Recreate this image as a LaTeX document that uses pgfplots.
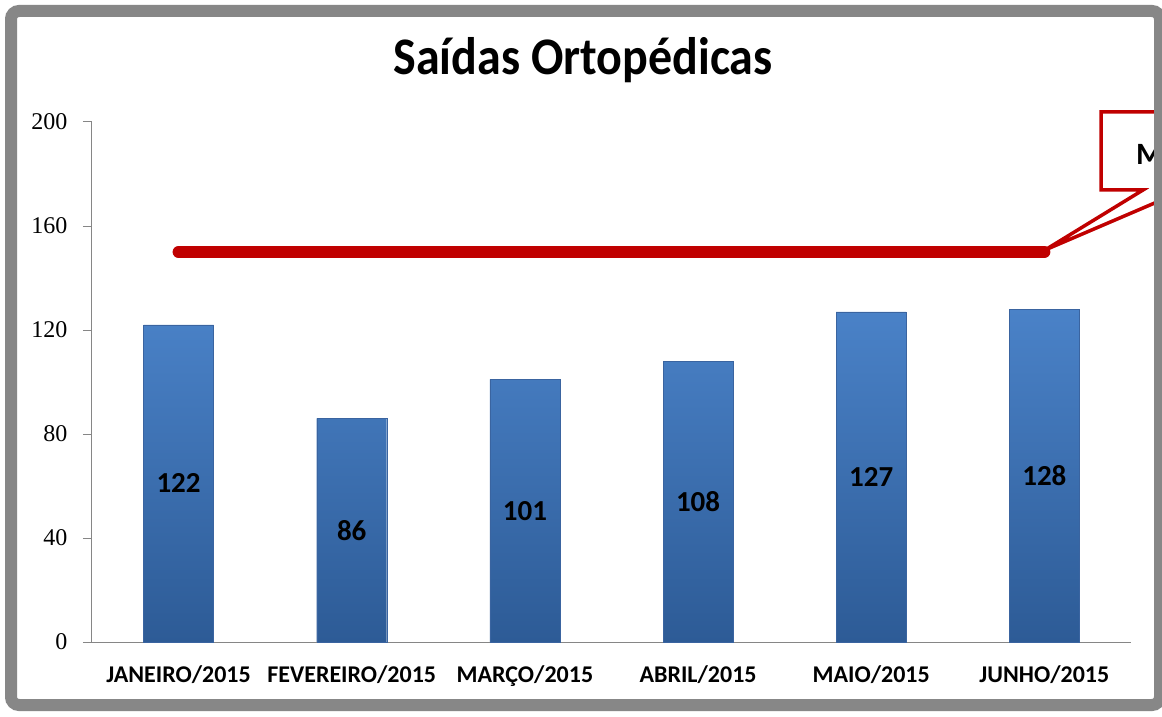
\documentclass[border=0pt]{standalone}
\usepackage{pgfplots}
\pgfplotsset{compat=1.18}
\usepackage{fontspec}
\setmainfont{Carlito}
\newfontfamily\serifnum{Liberation Serif}
\definecolor{framegray}{HTML}{878787}
\definecolor{axgray}{HTML}{868686}
\definecolor{barTop}{HTML}{4A82C8}
\definecolor{barBot}{HTML}{2D5B96}
\definecolor{barEdge}{HTML}{3A64A0}
\definecolor{metared}{HTML}{C00000}
\begin{document}
\begin{tikzpicture}[x=1pt,y=1pt]
\useasboundingbox (0,0) rectangle (1162,716);
\clip (0,0) rectangle (1162,716);
\fill[white] (0,0) rectangle (1162,716);
\node[font=\bfseries\fontsize{48}{48}\selectfont, anchor=center, yscale=1.1] at (583,656) {Saídas Ortopédicas};
\begin{axis}[
  at={(92pt,74pt)}, anchor=south west,
  scale only axis, width=1039pt, height=520pt,
  xmin=-0.5, xmax=5.5, ymin=0, ymax=200,
  axis lines*=left,
  axis line style={axgray, line width=1pt},
  xtick={0,1,2,3,4,5},
  xticklabels={JANEIRO/2015,FEVEREIRO/2015,MARÇO/2015,ABRIL/2015,MAIO/2015,JUNHO/2015},
  xtick style={draw=none},
  xticklabel style={font=\bfseries\fontsize{24}{24}\selectfont, anchor=base, yshift=-31pt},
  ytick={0,40,80,120,160,200},
  ytick style={axgray, line width=1pt},
  tick align=outside,
  major tick length=9pt,
  /pgf/number format/assume math mode=true,
  yticklabel style={font=\serifnum\fontsize{24}{24}\selectfont, anchor=east, xshift=-12pt},
  clip=false,
]
\addplot[ybar, bar width=70pt, draw=barEdge, top color=barTop, bottom color=barBot]
  coordinates {(0,122) (1,86) (2,101) (3,108) (4,127) (5,128)};
\addplot[draw=none, mark=none, nodes near coords,
  visualization depends on=rawy \as \rawy,
  nodes near coords style={anchor=center, text=black, font=\bfseries\fontsize{29}{29}\selectfont,
    shift={(axis direction cs:0,-\rawy/2)}}]
  coordinates {(0,122) (1,86) (2,101) (3,108) (4,127) (5,128)};
\addplot[metared, line width=12pt, line cap=round] coordinates {(0,150) (5,150)};
\end{axis}
\draw[metared, line width=3.5pt, fill=white, line join=miter]
  (1101,604) -- (1240,604) -- (1240,526) -- (1185,526) -- (1045,466) -- (1143,526) -- (1101,526) -- cycle;
\node[font=\bfseries\fontsize{31}{31}\selectfont, anchor=base west, inner sep=0] at (1136,551) {Meta};
\draw[framegray, line width=12pt, rounded corners=8pt] (11,11) rectangle (1160,705);
\end{tikzpicture}
\end{document}
